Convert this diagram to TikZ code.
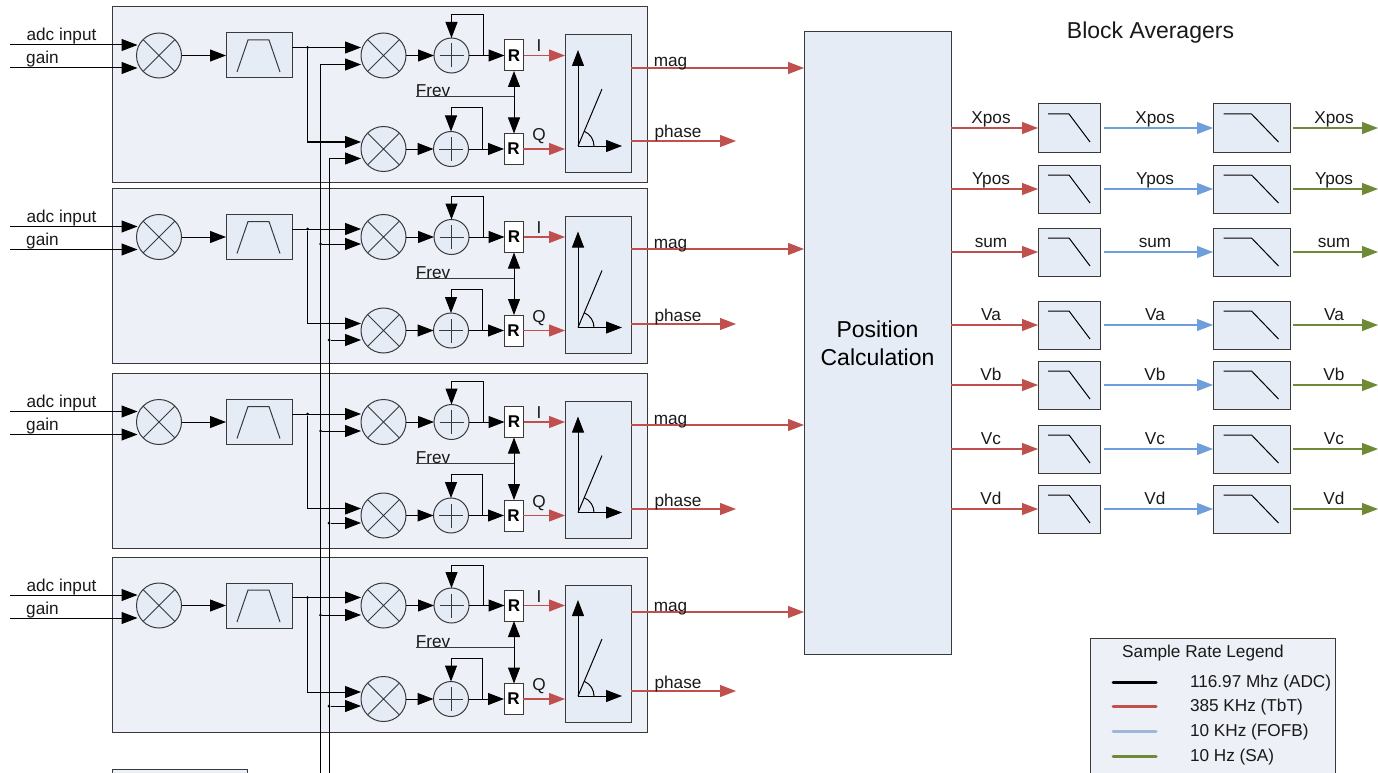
\documentclass[tikz,border=0pt]{standalone}
\usepackage{fontspec}
\setmainfont{Liberation Sans}
\usepackage{xcolor}
\usetikzlibrary{arrows.meta,positioning,calc}
\definecolor{blockfill}{HTML}{EDF0F6}
\definecolor{unitfill}{HTML}{E6ECF6}
\definecolor{edge}{HTML}{3A3A3A}
\definecolor{tbt}{HTML}{C0504D}
\definecolor{fofb}{HTML}{6F9FDB}
\definecolor{fofbkey}{HTML}{9DB7D9}
\definecolor{sa}{HTML}{6F8A37}

\begin{document}
\begin{tikzpicture}[
  x=1pt, y=-1pt, line width=1pt, >={Triangle[length=16pt,width=12pt]},
  every node/.style={outer sep=0pt, inner sep=0pt},
  block/.style={rectangle, draw=edge, fill=blockfill, minimum width=535pt, minimum height=175pt},
  mixer/.style={circle, draw=edge, fill=unitfill, minimum size=45pt,
    path picture={\draw (path picture bounding box.north west) -- (path picture bounding box.south east)
      (path picture bounding box.north east) -- (path picture bounding box.south west);}},
  adder/.style={circle, draw=edge, fill=unitfill, minimum size=35pt,
    path picture={\draw ([xshift=-12pt]path picture bounding box.center) -- ([xshift=12pt]path picture bounding box.center)
      ([yshift=-12pt]path picture bounding box.center) -- ([yshift=12pt]path picture bounding box.center);}},
  bandpass/.style={rectangle, draw=edge, fill=unitfill, minimum width=66pt, minimum height=45pt,
    path picture={\draw ([shift={(-22,16.5)}]path picture bounding box.center) -- ++(11,-32) -- ++(21,0) -- ++(11,32);}},
  resamp/.style={rectangle, draw=edge, fill=white, minimum width=19pt, minimum height=31pt, font=\fontsize{17}{17}\selectfont\bfseries},
  polar/.style={rectangle, draw=edge, fill=unitfill, minimum width=66pt, minimum height=137pt},
  lowpass/.style={rectangle, draw=edge, fill=unitfill, minimum height=48pt},
  lbl/.style={font=\fontsize{17.2}{17.2}\selectfont, anchor=base, text=black!90},
  wire/.style={->, black},
  tbtwire/.style={->, tbt, line width=1.2pt},
  fofbwire/.style={->, fofb, line width=1.2pt},
  sawire/.style={->, sa, line width=1.2pt},
  key/.style={line width=3pt, line cap=round}
]
\useasboundingbox (0,0) rectangle (1378,773);

% channel blocks
\foreach \n/\dy/\magy/\phy in {1/0/68/141, 2/181.5/249/324, 3/366.5/425/509, 4/550/612/691} {
  \node[block] (block\n) at (379.5,94.5+\dy) {};

  \coordinate (adc\n) at (10,45+\dy);
  \coordinate (gain\n) at (10,68+\dy);
  \node[lbl] (adclbl\n) at (61.5,41+\dy) {adc input};
  \node[lbl] (gainlbl\n) at (42.5,64+\dy) {gain};

  \node[mixer] (mix\n) at (159,55.5+\dy) {};
  \node[bandpass] (filt\n) [right=44.5pt of mix\n] {};
  \draw[wire] (adc\n) -- ([xshift=1pt]mix\n.west |- adc\n);
  \draw[wire] (gain\n) -- ([xshift=1pt]mix\n.west |- gain\n);
  \draw[wire] (mix\n) -- (filt\n);

  \node[mixer] (mixi\n) [right=69pt of filt\n] {};
  \node[mixer] (mixq\n) [below=48.5pt of mixi\n] {};
  \coordinate (filtout\n) at (292,47.5+\dy);
  \node[circle, fill=black, minimum size=3pt] (tee\n) at (307.5,47.5+\dy) {};
  \draw[wire] (filtout\n) -- (mixi\n.west |- filtout\n);
  \coordinate (feedq\n) at (362,142+\dy);
  \draw[wire] (tee\n) |- (mixq\n.west |- feedq\n);

  \node[adder] (addi\n) [right=28pt of mixi\n] {};
  \node[adder] (addq\n) [right=27.5pt of mixq\n] {};
  \draw[wire] (mixi\n) -- (addi\n);
  \draw[wire] (mixq\n) -- (addq\n);

  \node[resamp] (deci\n) [right=35.5pt of addi\n] {R};
  \node[resamp] (decq\n) [right=35.5pt of addq\n] {R};
  \draw[wire] (addi\n) -- (deci\n);
  \draw[wire] (addq\n) -- (decq\n);
  \coordinate (loopi\n) at (483,15+\dy);
  \coordinate (loopq\n) at (482,108+\dy);
  \draw[wire] (483,0 |- addi\n) -- (loopi\n) -| (addi\n);
  \draw[wire] (482,0 |- addq\n) -- (loopq\n) -| (addq\n);

  \coordinate (frev\n) at (416,97+\dy);
  \node[lbl] (frevlbl\n) at (433,97+\dy) {Frev};
  \coordinate (frevtee\n) at (deci\n |- frev\n);
  \draw[edge] (frev\n) -- (frevtee\n);
  \draw[wire] (frevtee\n) -- (frevtee\n |- deci\n.south);
  \draw[wire] (frevtee\n) -- (frevtee\n |- decq\n.north);

  \node[polar] (pol\n) at (598,103.5+\dy) {};
  \draw[tbtwire] (deci\n) -- (pol\n.west |- deci\n);
  \draw[tbtwire] (decq\n) -- (pol\n.west |- decq\n);
  \node[lbl] (ilbl\n) at (539,52+\dy) {I};
  \node[lbl] (qlbl\n) at (539,140.5+\dy) {Q};

  % polar plot
  \coordinate (org\n) at (578,146+\dy);
  \draw[wire] (org\n) -- ++(0,-96);
  \draw[wire] (org\n) -- ++(44,0);
  \draw[black] (org\n) -- ++(24,-57);
  \draw[black] ($(org\n)+(16,0)$) arc[start angle=0, end angle=-67, radius=16];

  \coordinate (magout\n) at (804,\magy);
  \coordinate (phout\n) at (736,\phy);
  \draw[tbtwire] (pol\n.east |- magout\n) -- (magout\n);
  \draw[tbtwire] (pol\n.east |- phout\n) -- (phout\n);
  \node[lbl] (maglbl\n) at (670.5,\magy-1) {mag};
  \node[lbl] (phlbl\n) at (678,\phy-3) {phase};
}

% local oscillator feeds
\coordinate (cosend) at (320.5,773);
\coordinate (sinend) at (329,773);
\draw[wire] (cosend) |- (mixi1.west |- 0,64.5);
\draw[wire] (sinend) |- (mixq1.west |- 0,158.5);
\foreach \n/\cosy/\siny in {2/244/340, 3/431/523, 4/615/706} {
  \node[circle, fill=black, minimum size=3pt] (cosdot\n) at (320.5,\cosy) {};
  \node[circle, fill=black, minimum size=3pt] (sindot\n) at (329,\siny) {};
  \draw[wire] (cosdot\n) -- (mixi\n.west |- cosdot\n);
  \draw[wire] (sindot\n) -- (mixq\n.west |- sindot\n);
}

% position calculation
\node[rectangle, draw=edge, fill=unitfill, minimum width=147pt, minimum height=622pt,
  align=center, font=\fontsize{23}{28}\selectfont] (poscalc) at (877.5,343) {Position\\Calculation};

\node[lbl, font=\fontsize{23}{23}\selectfont] (avglbl) at (1150.5,39) {Block Averagers};

% averager rows
\foreach \n/\t/\y in {1/Xpos/128, 2/Ypos/189, 3/sum/252, 4/Va/325, 5/Vb/385, 6/Vc/449, 7/Vd/509} {
  \node[lowpass, minimum width=62pt] (lpa\n) at (1069,\y) {};
  \node[lowpass, minimum width=77pt] (lpb\n) at (1251.5,\y) {};
  \draw[black] ($(lpa\n)+(-21,-14)$) -- ++(21,0) -- ++(21,28);
  \draw[black] ($(lpb\n)+(-28,-14)$) -- ++(28,0) -- ++(27,28);
  \coordinate (blue\n) at (1104,\y);
  \coordinate (green\n) at (1293,\y);
  \coordinate (sa\n) at (1378,\y);
  \draw[tbtwire] (poscalc.east |- lpa\n) -- (lpa\n);
  \draw[fofbwire] (blue\n) -- (lpb\n);
  \draw[sawire] (green\n) -- (sa\n);
  \node[lbl] (tbtlbl\n) at (991,\y-4.5) {\t};
  \node[lbl] (fofblbl\n) at (1155,\y-4.5) {\t};
  \node[lbl] (salbl\n) at (1334,\y-4.5) {\t};
}

% legend
\node[rectangle, draw=edge, fill=blockfill, minimum width=245pt, minimum height=160pt] (legend) at (1212.5,718) {};
\node[lbl] (legendlbl) at (1203,657) {Sample Rate Legend};
\foreach \n/\t/\y/\c in {1/116.97 Mhz (ADC)/682.5/black, 2/385 KHz (TbT)/706.5/tbt, 3/10 KHz (FOFB)/731.5/fofbkey, 4/10 Hz (SA)/756.5/sa} {
  \coordinate (keya\n) at (1113,\y);
  \coordinate (keyb\n) at (1156,\y);
  \draw[key, \c] (keya\n) -- (keyb\n);
  \node[lbl, anchor=base west] (keylbl\n) at (1190,\y+5) {\t};
}

% block cut by the page edge
\node[rectangle, draw=edge, fill=blockfill, minimum width=135pt, minimum height=60pt, anchor=north west] (clock) at (112,769) {};
\end{tikzpicture}
\end{document}
